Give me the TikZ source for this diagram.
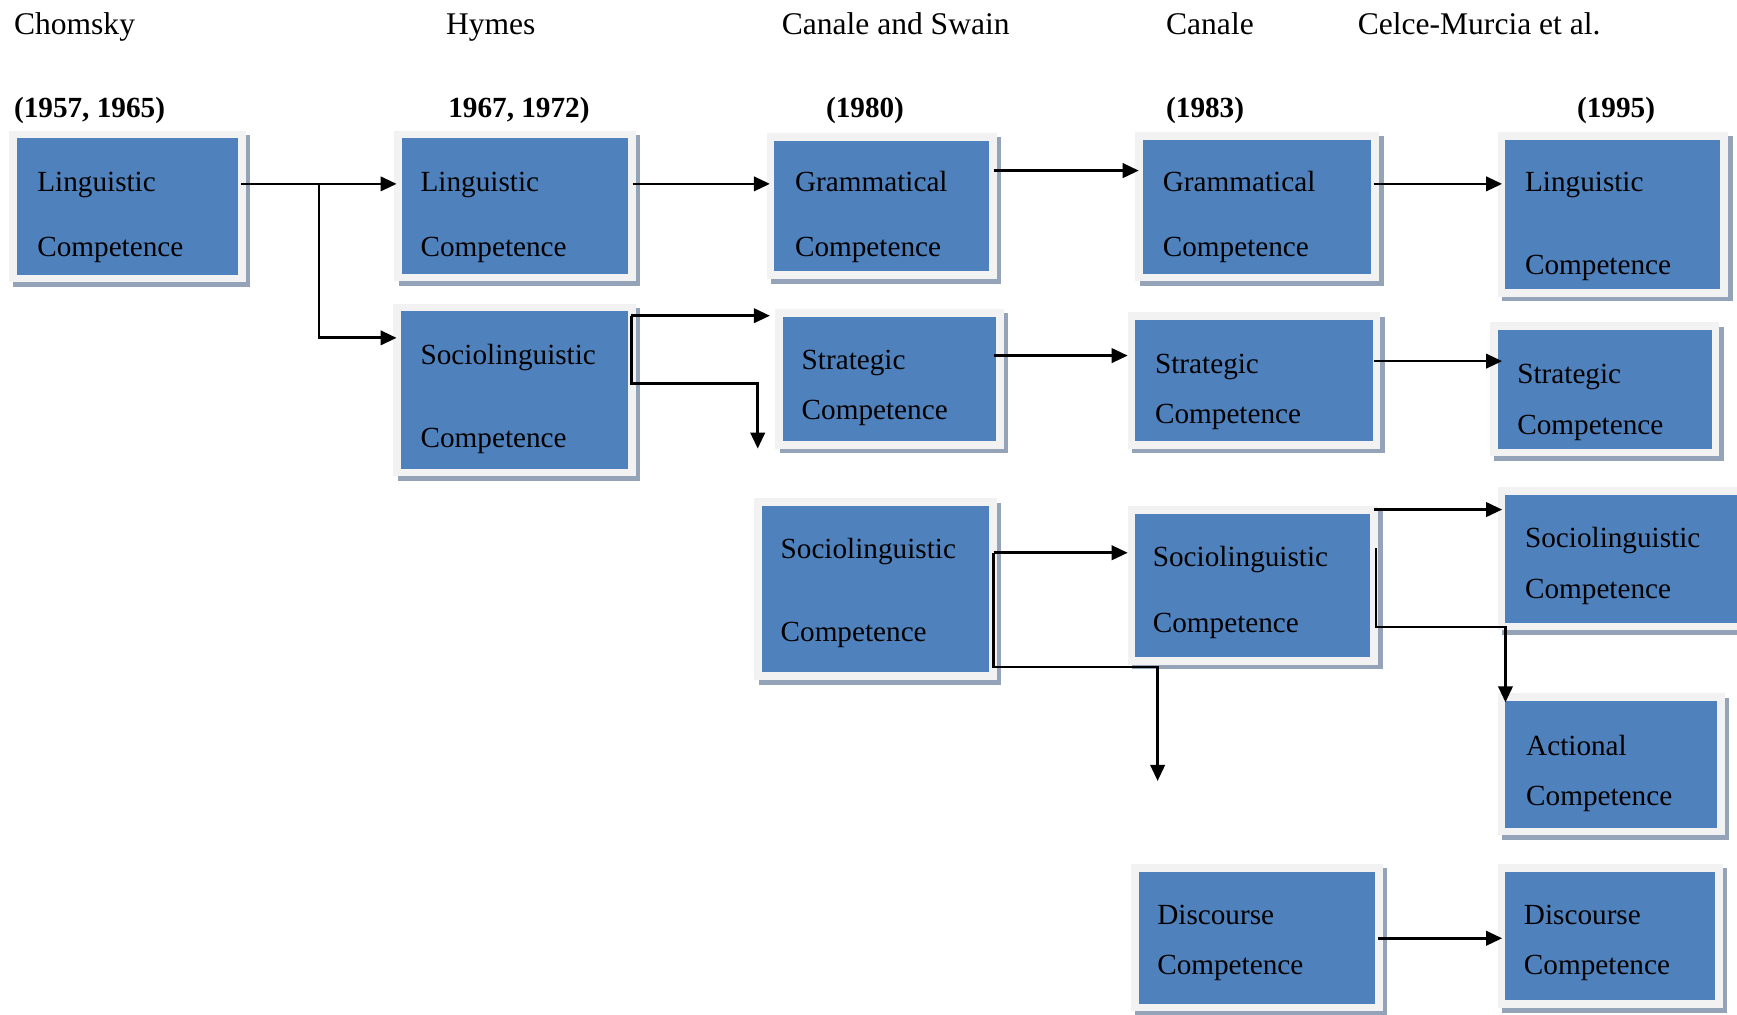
\documentclass[tikz,border=0pt]{standalone}
\usepackage{fontspec}
\setmainfont{Liberation Serif}
\usetikzlibrary{arrows.meta,calc,fit}
\definecolor{boxblue}{HTML}{4F81BD}
\definecolor{framegray}{HTML}{F2F2F2}
\definecolor{shadowgray}{HTML}{95A3B8}
\tikzset{
  frame/.style={rectangle, inner sep=0pt, outer sep=0pt, fill=framegray, draw=none},
  boxtext/.style={anchor=base west, inner sep=0pt, font=\fontsize{7.5}{9}\selectfont},
  heading/.style={anchor=base west, inner sep=0pt, font=\fontsize{8.1}{10}\selectfont},
  yearlabel/.style={anchor=base west, inner sep=0pt, font=\fontsize{7.5}{9}\selectfont\bfseries},
  conn/.style={line width=0.7pt, -{Triangle[length=1.45mm, width=1.3mm]}},
}
\newcommand\compbox[9]{%
  \fill[shadowgray] (#2+4,#3+4) rectangle (#4+4,#5+4);
  \node[frame, fit={(#2,#3) (#4,#5)}] (#1) {};
  \fill[boxblue] (#2+7,#3+7) rectangle (#4-7,#5-7);
  \node[boxtext] (#1-a) at (#6,#7) {#9};
  \node[boxtext] (#1-b) at (#6,#8) {Competence};
}
\begin{document}
\begin{tikzpicture}[x=0.01cm, y=-0.01cm]
\useasboundingbox (0,0) rectangle (1568,916);
% headings
\node[heading] (h1) at (12,31) {Chomsky};
\node[heading] (h2) at (402,31) {Hymes};
\node[heading] (h3) at (705,31) {Canale and Swain};
\node[heading] (h4) at (1052,31) {Canale};
\node[heading] (h5) at (1225,31) {Celce-Murcia et al.};
\node[yearlabel] (y1) at (12,106) {(1957, 1965)};
\node[yearlabel] (y2) at (404,106) {1967, 1972)};
\node[yearlabel] (y3) at (745,106) {(1980)};
\node[yearlabel] (y4) at (1052,106) {(1983)};
\node[yearlabel] (y5) at (1423,106) {(1995)};
% boxes
\compbox{b1}{8}{118}{222}{255}{33}{173}{232}{Linguistic}
\compbox{b2}{356}{118}{574}{254}{379}{173}{232}{Linguistic}
\compbox{b3}{355}{274}{574}{430}{379}{329}{404}{Sociolinguistic}
\compbox{b4}{692}{120}{900}{252}{717}{173}{232}{Grammatical}
\compbox{b5}{700}{279}{906}{405}{723}{334}{379}{Strategic}
\compbox{b6}{681}{450}{900}{614}{704}{504}{579}{Sociolinguistic}
\compbox{b7}{1025}{119}{1245}{254}{1049}{173}{232}{Grammatical}
\compbox{b8}{1018}{282}{1246}{405}{1042}{337}{382}{Strategic}
\compbox{b9}{1018}{457}{1244}{600}{1040}{511}{571}{Sociolinguistic}
\compbox{b10}{1021}{780}{1248}{913}{1044}{835}{880}{Discourse}
\compbox{b11}{1352}{119}{1560}{268}{1376}{173}{248}{Linguistic}
\compbox{b12}{1345}{291}{1552}{412}{1369}{346}{392}{Strategic}
\compbox{b13}{1352}{440}{1575}{569}{1376}{494}{540}{Sociolinguistic}
\compbox{b14}{1352}{626}{1557}{754}{1377}{682}{727}{Actional}
\compbox{b15}{1352}{780}{1555}{910}{1375}{835}{880}{Discourse}
% helper coordinates
\coordinate (r154) at (0,154);
\coordinate (r166) at (0,166);
\coordinate (r285) at (0,285);
\coordinate (r305) at (0,305);
\coordinate (r321) at (0,321);
\coordinate (r326) at (0,326);
\coordinate (r346) at (0,346);
\coordinate (r460) at (0,460);
\coordinate (r495) at (0,495);
\coordinate (r499) at (0,499);
\coordinate (r602) at (0,602);
\coordinate (r847) at (0,847);
\coordinate (j1) at (288,166);
\coordinate (e1) at (684,405);
\coordinate (e2) at (1045,705);
\coordinate (k1) at (1359,566);
% connectors
\draw[conn] ([xshift=-0.04cm]b1.east |- r166) -- ([xshift=0.02cm]b2.west |- r166);
\draw[conn] (j1) |- ([xshift=0.03cm]b3.west |- r305);
\draw[conn] ([xshift=-0.03cm]b2.east |- r166) -- ([xshift=0.03cm]b4.west |- r166);
\draw[conn] ([xshift=-0.04cm]b3.east |- r285) -- ([xshift=-0.05cm]b5.west |- r285);
\draw[conn] ([xshift=-0.04cm]b3.east |- r285) |- (e1 |- r346) -- (e1);
\draw[conn] ([xshift=-0.03cm]b4.east |- r154) -- ([xshift=0.03cm]b7.west |- r154);
\draw[conn] ([xshift=-0.09cm]b5.east |- r321) -- (b8.west |- r321);
\draw[conn] ([xshift=-0.03cm]b6.east |- r499) -- (b9.west |- r499);
\draw[conn] ([xshift=-0.03cm]b6.east |- r499) |- (e2 |- r602) -- (e2);
\draw[conn] ([xshift=-0.05cm]b7.east |- r166) -- ([xshift=0.04cm]b11.west |- r166);
\draw[conn] ([xshift=-0.06cm]b8.east |- r326) -- ([xshift=0.11cm]b12.west |- r326);
\draw[conn] ([xshift=-0.04cm]b9.east |- r460) -- ([xshift=0.04cm]b13.west |- r460);
\draw[conn] ([xshift=-0.02cm]b9.east |- r495) |- (k1) -- ([yshift=-0.08cm]k1 |- b14.north);
\draw[conn] ([xshift=-0.04cm]b10.east |- r847) -- ([xshift=0.04cm]b15.west |- r847);
\end{tikzpicture}
\end{document}
